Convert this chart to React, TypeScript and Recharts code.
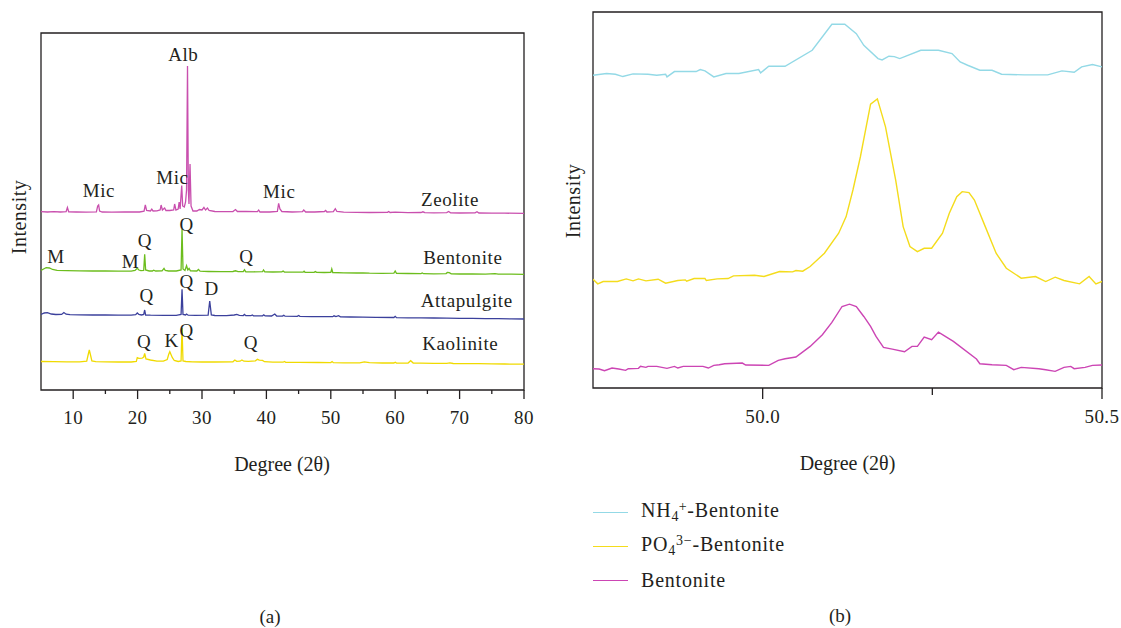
import React from 'react';
import { LineChart, Line, XAxis, YAxis, ReferenceArea, ReferenceDot } from 'recharts';

type Pt = [number, number];

const FONT = '"Liberation Serif", "Times New Roman", serif';
const INK = '#231f20';

// ---------------- Panel (a): XRD patterns, offset stacked ----------------
const ticksA = [10, 15, 20, 25, 30, 35, 40, 45, 50, 55, 60, 65, 70, 75, 80];
const tickLabelsA = ['10', '', '20', '', '30', '', '40', '', '50', '', '60', '', '70', '', '80'];

const zeolite: Pt[] = [
  [5, 178.3], [6, 178], [7, 178.4], [8, 178], [8.9, 178.3], [9.1, 182.5], [9.3, 178.2], [10.5, 178], [12, 177.8],
  [13.6, 178.2], [13.8, 184], [13.95, 185], [14.1, 179], [14.5, 178], [16, 177.8], [18, 178], [19.5, 178.2],
  [20.3, 178], [21.0, 178.8], [21.2, 185], [21.4, 179.5], [22.0, 179], [22.2, 180.8], [22.4, 179], [23.0, 179.2],
  [23.5, 180], [23.65, 185], [23.85, 180], [24.2, 182], [24.4, 179.5], [25.0, 179.5], [25.6, 180], [25.75, 186],
  [25.95, 180], [26.3, 181], [26.45, 188], [26.6, 181], [26.85, 204.5], [27.0, 184], [27.25, 183], [27.45, 188],
  [27.6, 200], [27.75, 324], [27.88, 200], [27.98, 186], [28.05, 205], [28.14, 226], [28.3, 184], [28.6, 179],
  [29.2, 179], [29.6, 180.5], [30.0, 180], [30.3, 182.5], [30.55, 180], [30.85, 182], [31.1, 179.5], [32, 178.5],
  [33.5, 178.3], [34.8, 178.5], [35.2, 180.5], [35.5, 178.5], [36.8, 178.5], [38.6, 178.4], [38.8, 180], [39.0, 178],
  [40.5, 178], [41.7, 178.5], [41.9, 186.7], [42.1, 181], [42.4, 178.5], [44, 178], [45.6, 178.3], [45.8, 180],
  [46.1, 178], [47.5, 178], [49.0, 178.5], [49.2, 179.5], [49.4, 178], [50.4, 178.3], [50.7, 181.3], [50.95, 178.5],
  [52, 177.8], [54, 177.6], [56, 177.5], [58.8, 177.6], [59, 178.5], [59.2, 177.5], [60, 177.8], [62, 177.3],
  [64, 177.5], [64.3, 178.2], [64.6, 177.3], [66, 177.2], [68, 177.4], [68.3, 178.5], [68.6, 177.2], [70, 177],
  [72.4, 177.2], [72.7, 178.3], [73, 177], [75, 176.9], [77, 176.8], [80, 176.7],
];

const bentonite: Pt[] = [
  [5, 119.5], [5.4, 121], [5.8, 122.3], [6.3, 122], [6.8, 120.5], [7.5, 119.6], [9, 119.3], [11, 119.1], [13, 119],
  [15, 119], [17, 118.8], [19, 118.8], [19.6, 119.5], [19.95, 121.8], [20.2, 120], [20.5, 119.4], [20.95, 119.6],
  [21.1, 135.7], [21.25, 120], [21.8, 119], [22.3, 119], [22.5, 119.8], [22.8, 119], [23.8, 119.2], [24.1, 121.7],
  [24.3, 119.5], [24.8, 119], [26.0, 119], [26.75, 120], [26.9, 161], [27.05, 121], [27.35, 119.5], [27.6, 124.3],
  [27.8, 120], [28.0, 121.5], [28.2, 119.2], [29.2, 119], [29.45, 120.5], [29.7, 118.8], [31, 118.5], [33, 118.3],
  [34.8, 118.5], [35.2, 119.2], [35.6, 118.3], [36.4, 118.3], [36.6, 120.2], [36.8, 118.2], [38, 118.2],
  [39.4, 118.3], [39.55, 120], [39.75, 118.1], [41, 118], [42.4, 118.1], [42.6, 119], [42.8, 118], [44, 117.8],
  [45.7, 117.8], [45.85, 118.8], [46.0, 117.7], [47.4, 117.6], [47.6, 118.4], [47.8, 117.6], [49, 117.5],
  [50.0, 117.6], [50.15, 121], [50.3, 117.5], [52, 117.2], [54, 117], [55, 117.2], [56, 116.9], [58, 116.7],
  [59.8, 116.8], [60.0, 119], [60.2, 116.6], [62, 116.5], [64, 116.4], [64.2, 117], [64.4, 116.3], [66, 116.2],
  [67.9, 116.4], [68.1, 117.6], [68.4, 117.3], [68.7, 116.1], [70, 116], [72, 116], [74, 115.9], [75.5, 116.3],
  [76, 115.8], [78, 115.8], [80, 115.7],
];

const attapulgite: Pt[] = [
  [5, 75.5], [5.5, 77], [6, 77.3], [6.6, 76], [7.3, 75.5], [8.2, 75.6], [8.55, 77.5], [8.9, 75.8], [9.5, 75.3],
  [11, 75.2], [13, 75], [15, 75], [17, 74.9], [19, 74.8], [19.7, 75.3], [19.95, 77], [20.2, 75.5], [20.6, 75],
  [20.95, 75.5], [21.1, 80], [21.25, 75], [22, 74.8], [24, 74.7], [26, 74.6], [26.75, 75.5], [26.9, 100.7],
  [27.05, 75.5], [27.45, 75], [27.6, 76], [27.85, 74.8], [29, 74.6], [30.95, 74.8], [31.2, 89], [31.45, 75],
  [32, 74.5], [33.8, 74.4], [35, 75], [35.4, 75.6], [35.8, 74.6], [36.4, 74.4], [36.6, 75.6], [36.8, 74.3],
  [37.6, 74.3], [37.8, 75], [38, 74.2], [39.4, 74.2], [39.6, 75.2], [39.8, 74.1], [40.8, 74], [41.3, 76],
  [41.6, 74], [42.5, 73.9], [42.7, 74.8], [42.9, 73.8], [44.8, 73.7], [45.0, 74.5], [45.2, 73.6], [47, 73.4],
  [49, 73.3], [50.3, 73.3], [50.5, 74.2], [50.8, 73.4], [51.2, 74.3], [51.5, 73.1], [53, 73], [55, 72.8],
  [57, 72.6], [59.8, 72.5], [60.0, 73.7], [60.2, 72.4], [62, 72.2], [64, 72.1], [66, 72], [68, 71.8], [70, 71.7],
  [72, 71.6], [74, 71.4], [76, 71.3], [78, 71.1], [80, 71],
];

const kaolinite: Pt[] = [
  [5, 28.5], [7, 28.3], [9, 28.2], [11, 28.2], [12.1, 28.8], [12.35, 36], [12.5, 40], [12.65, 36], [12.9, 29],
  [13.5, 28.3], [15, 28.1], [17, 28], [19, 28], [19.8, 28.5], [19.95, 32.3], [20.2, 31.6], [20.7, 31.8],
  [20.95, 33], [21.1, 36.7], [21.3, 31], [22, 30], [23, 28.8], [24, 28.8], [24.6, 30.5], [24.85, 36], [25.0, 38.3],
  [25.15, 36], [25.4, 32.3], [25.7, 29.5], [26.3, 28.5], [26.75, 29], [26.9, 62], [27.05, 29], [27.5, 28.5],
  [28.5, 28.2], [30, 28], [32, 28], [34.8, 28.2], [35.1, 30], [35.4, 28.6], [35.9, 28.8], [36.2, 30], [36.5, 28.8],
  [37.2, 28.6], [38.3, 29.2], [38.6, 30.7], [38.9, 29.8], [39.4, 29.6], [39.7, 28.3], [41, 27.8], [42.6, 27.8],
  [42.8, 28.5], [43, 27.7], [45, 27.6], [48, 27.5], [50.0, 27.4], [50.2, 28.5], [50.4, 27.3], [52, 27.2],
  [54.5, 27.2], [55.2, 28.2], [56, 27.3], [58, 27], [59.8, 27], [60, 27.8], [60.2, 26.9], [62, 27], [62.4, 29.3],
  [62.8, 26.9], [64, 26.8], [66, 26.6], [68, 26.7], [68.5, 27.2], [69, 26.5], [71, 26.4], [73, 26.3], [75, 26.2],
  [77, 26], [80, 25.8],
];

const seriesA = [
  { name: 'Zeolite', color: '#c94fae', points: zeolite },
  { name: 'Bentonite', color: '#6cbd1d', points: bentonite },
  { name: 'Attapulgite', color: '#3b409c', points: attapulgite },
  { name: 'Kaolinite', color: '#f0da00', points: kaolinite },
];

// [text, degree, intensity]
const annotationsA: [string, number, number][] = [
  ['Alb', 27.1, 336],
  ['Mic', 14.0, 200],
  ['Mic', 25.4, 212.7],
  ['Mic', 42.0, 198.3],
  ['Zeolite', 68.5, 190.7],
  ['M', 7.33, 133.3],
  ['M', 18.9, 129],
  ['Q', 21.15, 150],
  ['Q', 27.6, 166],
  ['Q', 36.9, 134],
  ['Bentonite', 70.5, 132.7],
  ['Q', 21.4, 95],
  ['Q', 27.6, 108.3],
  ['D', 31.5, 101.7],
  ['Attapulgite', 71.1, 89.3],
  ['Q', 21.0, 48.3],
  ['K', 25.3, 50],
  ['Q', 27.6, 60],
  ['Q', 37.6, 47.7],
  ['Kaolinite', 70.1, 46.7],
];

// ---------------- Panel (b): zoom near 50° ----------------
const ticksB = [50.0, 50.25, 50.5];
const tickLabelsB = ['50.0', '', '50.5'];

const nh4Bentonite: Pt[] = [
  [49.75, 94.0], [49.77, 94.5], [49.783, 94.3], [49.794, 93.6], [49.809, 94.4], [49.831, 94.3], [49.844, 94.0],
  [49.857, 94.3], [49.859, 93.5], [49.87, 95.1], [49.902, 95.1], [49.908, 95.7], [49.915, 95.3], [49.928, 93.5],
  [49.946, 94.5], [49.965, 94.5], [49.994, 95.7], [49.997, 94.7], [50.009, 96.7], [50.033, 96.7], [50.073, 101.5],
  [50.102, 109.3], [50.121, 109.3], [50.138, 106.5], [50.149, 103.0], [50.17, 99.0], [50.176, 98.6],
  [50.186, 99.7], [50.194, 99.6], [50.202, 99.0], [50.233, 101.5], [50.259, 101.5], [50.279, 100.5],
  [50.291, 98.0], [50.302, 97.0], [50.32, 95.5], [50.338, 95.5], [50.352, 94.3], [50.386, 94.1], [50.42, 94.1],
  [50.441, 95.3], [50.459, 94.9], [50.47, 96.5], [50.486, 97.2], [50.5, 96.5],
];

const po4Bentonite: Pt[] = [
  [49.75, 32.7], [49.757, 31.3], [49.765, 32.0], [49.786, 32.0], [49.799, 32.8], [49.809, 32.2], [49.817, 32.8],
  [49.828, 32.2], [49.846, 32.7], [49.857, 31.5], [49.875, 32.3], [49.886, 32.5], [49.888, 32.1], [49.899, 32.9],
  [49.915, 32.9], [49.917, 32.3], [49.933, 32.8], [49.949, 32.9], [49.957, 33.7], [49.988, 33.9], [50.002, 33.5],
  [50.025, 35.0], [50.044, 34.9], [50.049, 35.3], [50.059, 35.1], [50.07, 36.5], [50.091, 40.5], [50.112, 46.5],
  [50.123, 51.5], [50.133, 59.5], [50.144, 69.5], [50.159, 85.3], [50.169, 86.9], [50.181, 78.5], [50.196, 62.5],
  [50.207, 48.5], [50.217, 42.5], [50.228, 41.0], [50.238, 42.0], [50.249, 42.0], [50.265, 46.5], [50.275, 52.5],
  [50.286, 57.5], [50.294, 59.0], [50.304, 58.7], [50.312, 56.5], [50.328, 48.5], [50.344, 40.5], [50.359, 36.0],
  [50.381, 33.0], [50.402, 33.5], [50.417, 32.0], [50.431, 33.3], [50.444, 32.3], [50.467, 31.3], [50.481, 33.5],
  [50.491, 31.3], [50.5, 32.0],
];

const rawBentonite: Pt[] = [
  [49.75, 5.8], [49.759, 5.7], [49.767, 5.2], [49.778, 6.0], [49.788, 5.7], [49.798, 5.3], [49.802, 5.8],
  [49.817, 5.9], [49.82, 6.5], [49.828, 6.2], [49.831, 6.5], [49.844, 6.5], [49.859, 5.9], [49.87, 6.5],
  [49.875, 6.0], [49.883, 6.5], [49.912, 6.5], [49.92, 6.0], [49.928, 6.8], [49.936, 7.0], [49.944, 7.3],
  [49.97, 7.5], [49.975, 6.9], [50.009, 6.8], [50.023, 8.3], [50.033, 8.8], [50.049, 9.3], [50.07, 12.5],
  [50.088, 16.0], [50.102, 19.7], [50.117, 24.5], [50.128, 25.2], [50.138, 24.5], [50.149, 21.5], [50.159, 18.5],
  [50.167, 15.5], [50.178, 12.2], [50.191, 11.7], [50.209, 10.9], [50.22, 12.5], [50.228, 12.5], [50.238, 15.3],
  [50.249, 14.5], [50.259, 16.8], [50.281, 14.0], [50.315, 8.7], [50.32, 7.3], [50.338, 7.0], [50.359, 6.8],
  [50.37, 5.5], [50.381, 6.2], [50.407, 5.8], [50.417, 5.5], [50.431, 5.0], [50.444, 6.2], [50.454, 6.5],
  [50.459, 5.8], [50.475, 6.2], [50.486, 6.8], [50.5, 6.9],
];

const seriesB = [
  { key: 'nh4', color: '#93d9e6', points: nh4Bentonite },
  { key: 'po4', color: '#f4dc1c', points: po4Bentonite },
  { key: 'bent', color: '#cc45b4', points: rawBentonite },
];

const toRows = (pts: Pt[]) => pts.map(([x, y]) => ({ x, y }));

const makeTick = (ticks: number[], labels: string[], majorLen: number, minorLen: number, labelDy: number) =>
  (props: any) => {
    const { x, y, payload } = props;
    const i = ticks.findIndex((t) => Math.abs(t - payload.value) < 1e-6);
    const label = i >= 0 ? labels[i] : '';
    const major = label !== '';
    return (
      <g>
        <line x1={x} x2={x} y1={y} y2={y + (major ? majorLen : minorLen)} stroke={INK} strokeWidth={1.3} />
        {major && (
          <text x={x} y={y + labelDy} textAnchor="middle" dominantBaseline="central" fill={INK} fontSize={19} letterSpacing={0.4} fontFamily={FONT}>
            {label}
          </text>
        )}
      </g>
    );
  };

const TextAt = ({ x, y, children, size = 20, rotate = false, spacing = 0 }: any) => (
  <div
    style={{
      position: 'absolute',
      left: x,
      top: y,
      transform: `translate(-50%, -50%)${rotate ? ' rotate(-90deg)' : ''}`,
      whiteSpace: 'nowrap',
      fontFamily: FONT,
      fontSize: size,
      letterSpacing: spacing,
      color: INK,
      lineHeight: 1,
    }}
  >
    {children}
  </div>
);

const legendLabels = [
  <span key="a">NH<sub style={{ fontSize: '0.7em', verticalAlign: '-0.3em' }}>4</sub><sup style={{ fontSize: '0.7em', verticalAlign: '0.45em', marginLeft: '-0.05em' }}>+</sup>-Bentonite</span>,
  <span key="b">PO<sub style={{ fontSize: '0.7em', verticalAlign: '-0.3em' }}>4</sub><sup style={{ fontSize: '0.7em', verticalAlign: '0.45em' }}>3−</sup>-Bentonite</span>,
  <span key="c">Bentonite</span>,
];

export default function App() {
  return (
    <div style={{ position: 'absolute', left: 0, top: 0, width: 1121, height: 628, background: '#fff', overflow: 'hidden' }}>
      {/* Panel (a) */}
      <div style={{ position: 'absolute', left: 0, top: 0 }}>
        <LineChart width={540} height={440} margin={{ top: 33, right: 16, bottom: 20, left: 41 }}>
          <XAxis
            type="number"
            dataKey="x"
            domain={[5, 80]}
            ticks={ticksA}
            interval={0}
            allowDataOverflow
            height={30}
            axisLine={false}
            tickLine={false}
            tickSize={0}
            tickMargin={0}
            tick={makeTick(ticksA, tickLabelsA, 9, 4, 27)}
          />
          <YAxis type="number" domain={[0, 357]} hide allowDataOverflow />
          <ReferenceArea x1={5} x2={80} y1={0} y2={357} fill="none" fillOpacity={0} stroke={INK} strokeWidth={1.3} />
          {seriesA.map((s) => (
            <Line
              key={s.name}
              data={toRows(s.points)}
              dataKey="y"
              type="linear"
              stroke={s.color}
              strokeWidth={1.3}
              dot={false}
              activeDot={false}
              isAnimationActive={false}
            />
          ))}
          {annotationsA.map(([t, x, y], i) => (
            <ReferenceDot
              key={i}
              x={x}
              y={y}
              r={0}
              shape={(p: any) => (
                <text x={p.cx} y={p.cy} textAnchor="middle" dominantBaseline="central" fill={INK} fontSize={19} letterSpacing={0.6} fontFamily={FONT}>
                  {t}
                </text>
              )}
            />
          ))}
        </LineChart>
      </div>

      {/* Panel (b) */}
      <div style={{ position: 'absolute', left: 560, top: 0 }}>
        <LineChart width={561} height={440} margin={{ top: 12, right: 19, bottom: 22, left: 33 }}>
          <XAxis
            type="number"
            dataKey="x"
            domain={[49.75, 50.5]}
            ticks={ticksB}
            interval={0}
            allowDataOverflow
            height={30}
            axisLine={false}
            tickLine={false}
            tickSize={0}
            tickMargin={0}
            tick={makeTick(ticksB, tickLabelsB, 11, 7, 28)}
          />
          <YAxis type="number" domain={[0, 113]} hide allowDataOverflow />
          <ReferenceArea x1={49.75} x2={50.5} y1={0} y2={113} fill="none" fillOpacity={0} stroke={INK} strokeWidth={1.3} />
          {seriesB.map((s) => (
            <Line
              key={s.key}
              data={toRows(s.points)}
              dataKey="y"
              type="linear"
              stroke={s.color}
              strokeWidth={1.4}
              dot={false}
              activeDot={false}
              isAnimationActive={false}
            />
          ))}
        </LineChart>
      </div>

      {/* Axis titles */}
      <TextAt x={19} y={217} rotate size={20} spacing={0.5}>Intensity</TextAt>
      <TextAt x={282} y={464} size={20}>Degree (2θ)</TextAt>
      <TextAt x={572.5} y={201} rotate size={20} spacing={0.5}>Intensity</TextAt>
      <TextAt x={847.5} y={463} size={20}>Degree (2θ)</TextAt>
      <TextAt x={270} y={616} size={19}>(a)</TextAt>
      <TextAt x={840} y={615} size={19}>(b)</TextAt>

      {/* Legend for (b) */}
      {seriesB.map((s, i) => (
        <div key={s.key} style={{ position: 'absolute', left: 593, top: 512 + i * 34 - 12, height: 24, display: 'flex', alignItems: 'center' }}>
          <div style={{ width: 35, height: 0, borderTop: `1.5px solid ${s.color}` }} />
          <div style={{ marginLeft: 13, fontFamily: FONT, fontSize: 20, letterSpacing: 0.8, color: INK, whiteSpace: 'nowrap', lineHeight: 1 }}>
            {legendLabels[i]}
          </div>
        </div>
      ))}
    </div>
  );
}
